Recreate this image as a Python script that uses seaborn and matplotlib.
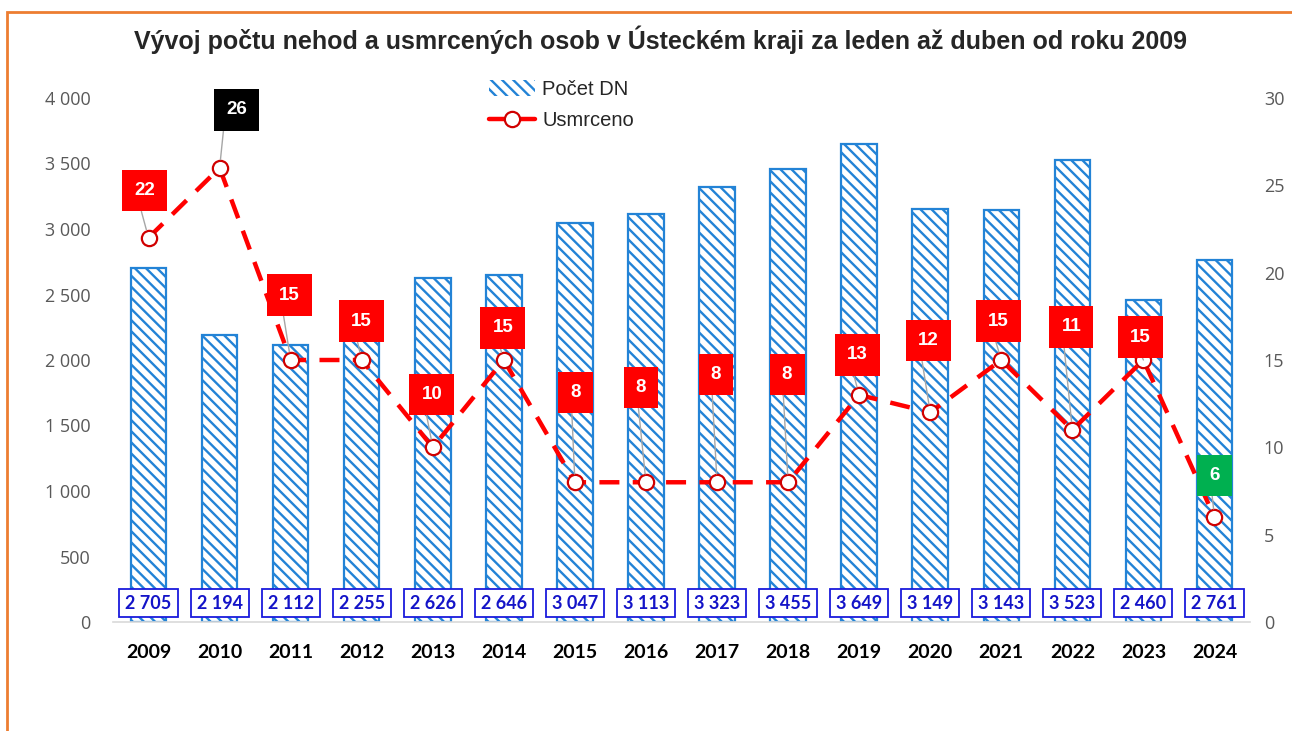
import numpy as np
import pandas as pd
import matplotlib
matplotlib.use("Agg")
import matplotlib.pyplot as plt
import seaborn as sns
from matplotlib.patches import Patch, Rectangle
from matplotlib.lines import Line2D

# data
years = ["2009", "2010", "2011", "2012", "2013", "2014", "2015", "2016",
         "2017", "2018", "2019", "2020", "2021", "2022", "2023", "2024"]
pocet_dn = [2705, 2194, 2112, 2255, 2626, 2646, 3047, 3113,
            3323, 3455, 3649, 3149, 3143, 3523, 2460, 2761]
usmrceno = [22, 26, 15, 15, 10, 15, 8, 8, 8, 8, 13, 12, 15, 11, 15, 6]

# where the label boxes sit relative to the points (pixels)
label_offsets = [(-4, 47), (17, 58), (-1, 65), (0, 39), (-1, 53), (-1, 32),
                 (1, 90), (-5, 95), (-1, 108), (-1, 108), (-2, 40), (-2, 72),
                 (-3, 39), (-1, 103), (-3, 23), (0, 42)]

sns.set_style("white")
plt.rcParams["hatch.linewidth"] = 1.7
plt.rcParams["font.family"] = ["Liberation Sans", "DejaVu Sans"]

blue = "#2383D6"
df = pd.DataFrame({"rok": years, "dn": pocet_dn, "usmrceno": usmrceno})

fig = plt.figure(figsize=(12.92, 7.31), dpi=100)
ax = fig.add_axes([113 / 1292, 1 - 622 / 731, (1250 - 113) / 1292, (622 - 98) / 731])

sns.barplot(data=df, x="rok", y="dn", ax=ax, width=0.5, color="white",
            edgecolor=blue, linewidth=1.6, saturation=1)
for p in ax.patches:
    p.set_facecolor("white")
    p.set_hatch("\\\\\\")
    p.set_edgecolor(blue)

ax.set_ylim(0, 4000)
ax.set_xlim(-0.5, 15.5)
ax.set_yticks(range(0, 4001, 500))
ax.set_yticklabels([f"{v:,}".replace(",", " ") for v in range(0, 4001, 500)],
                   fontfamily="Open Sans", fontsize=13, color="#595959")
ax.set_xticks(range(len(years)))
ax.set_xticklabels(years, fontfamily="Lato", fontweight="bold", fontsize=14, color="black")
ax.tick_params(axis="y", length=0, pad=16)
ax.tick_params(axis="x", length=0, pad=16)
ax.set_xlabel("")
ax.set_ylabel("")
for s in ["left", "right", "top"]:
    ax.spines[s].set_visible(False)
ax.spines["bottom"].set_color("#D9D9D9")
ax.spines["bottom"].set_linewidth(1.2)

# value boxes at the foot of the bars
for i, v in enumerate(pocet_dn):
    ax.text(i, 145, f"{v:,}".replace(",", " "), ha="center", va="center",
            fontfamily="Lato", fontweight="bold", fontsize=13, color="#1414C8",
            bbox=dict(boxstyle="square,pad=0.33", fc="white", ec="#1A1ADC", lw=1.3),
            zorder=5)

# deaths on the right axis
ax2 = ax.twinx()
sns.lineplot(x=np.arange(len(years)), y=usmrceno, ax=ax2, color="#FF0000",
             linewidth=3.2, linestyle=(0, (4.5, 3)), marker="o", markersize=11,
             markerfacecolor="white", markeredgecolor="#D00000", markeredgewidth=1.6)
ax2.set_ylim(0, 30)
ax2.set_yticks(range(0, 31, 5))
ax2.set_yticklabels([str(v) for v in range(0, 31, 5)],
                    fontfamily="Open Sans", fontsize=13, color="#595959")
ax2.tick_params(axis="y", length=0, pad=10)
ax2.set_ylabel("")
for s in ["left", "right", "top", "bottom"]:
    ax2.spines[s].set_visible(False)

vmax, vmin = max(usmrceno), min(usmrceno)
for i, v in enumerate(usmrceno):
    fc = "black" if v == vmax else ("#00B050" if v == vmin else "#FF0000")
    dx, dy = label_offsets[i]
    ax2.annotate(str(v), xy=(i, v), xytext=(dx, dy), textcoords="offset pixels",
                 ha="center", va="center", fontsize=13.5, fontweight="bold", color="white",
                 bbox=dict(boxstyle="square,pad=0.65", fc=fc, ec="none"),
                 arrowprops=dict(arrowstyle="-", color="#A6A6A6", lw=1,
                                 relpos=(0, 0.85), shrinkA=0, shrinkB=6),
                 zorder=6)

handles = [Patch(facecolor="white", edgecolor=blue, hatch="\\\\\\", linewidth=0),
           Line2D([], [], color="#FF0000", lw=3.2, marker="o", markersize=11,
                  markerfacecolor="white", markeredgecolor="#D00000", markeredgewidth=1.6)]
ax2.legend(handles, ["Počet DN", "Usmrceno"], loc="upper left",
           bbox_to_anchor=(471 / 1292, 1 - 62 / 731), bbox_transform=fig.transFigure,
           frameon=False, fontsize=14.5, handlelength=2.3, handleheight=0.8,
           labelspacing=0.6, handletextpad=0.35)

fig.text(660 / 1292, 1 - 40 / 731,
         "Vývoj počtu nehod a usmrcených osob v Ústeckém kraji za leden až duben od roku 2009",
         ha="center", va="center", fontsize=18, fontweight="bold")

# orange frame
fig.patches.append(Rectangle((7 / 1292, -0.05), 1.1, 1 - 12 / 731 + 0.05,
                             transform=fig.transFigure, fill=False,
                             edgecolor="#ED7D31", lw=2, zorder=0))

fig.savefig("out.png", dpi=100)
